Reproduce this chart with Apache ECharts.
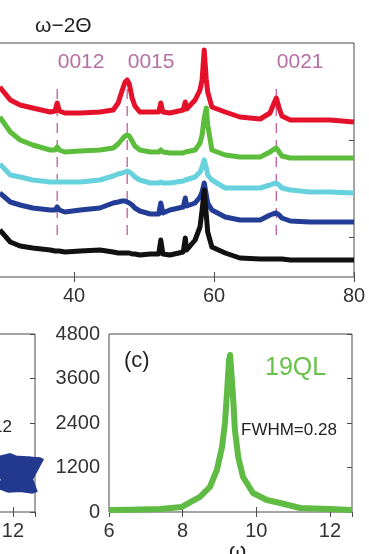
<!DOCTYPE html>
<html><head><meta charset="utf-8">
<script src="https://cdn.jsdelivr.net/npm/echarts@6/dist/echarts.min.js"></script>
<style>html,body{margin:0;padding:0;background:#fff}#c{width:369px;height:554px}</style>
</head><body><div id="c"></div><script>
// ---- top panel: omega-2theta scans (intensity in offset a.u.) ----
const twoTheta = [29.4,30.9,32.3,34.1,36.6,37.3,37.6,37.9,38.7,40.9,43.7,45.6,46.3,46.9,47.3,47.6,47.9,48.3,48.7,49.4,50.9,52.1,52.4,52.7,53.7,55.6,55.9,56.1,57.3,58.0,58.3,58.6,58.9,59.1,59.7,61.6,63.7,66.6,68.0,68.4,68.9,69.3,69.7,70.9,73.7,76.6,80.0];
const redScan   = [190,177,172,169,165,166,174,166,164,164,165,167,174,187,195,197,193,179,171,165,165,165,174,165,164,167,175,168,177,187,197,227,197,185,170,165,160,158,164,171,179,169,161,157,157,157,155];
const greenScan = [160,145,137,132,127,127,130,127,125,126,127,129,133,138,141,142,141,136,131,127,125,125,127,125,124,124,125,124,127,134,142,159,169,152,127,122,120,120,125,127,129,125,121,119,119,119,119];
const cyanScan  = [113,102,100,97,95,95,95,95,95,95,97,101,103,104,105,106,105,103,100,97,94,94,95,94,94,96,97,97,100,105,110,117,109,102,97,89,89,89,92,93,94,92,89,87,85,85,84];
const blueScan  = [84,75,72,69,67,67,70,67,65,67,69,74,75,76,76,75,74,72,69,66,63,63,74,64,67,70,79,71,74,80,85,94,82,74,67,60,57,57,62,63,64,62,59,56,55,55,55];
const blackScan = [47,35,31,29,27,26,26,26,25,26,27,25,24,24,24,24,24,23,23,22,23,23,37,23,22,25,39,27,37,50,67,87,62,45,30,24,19,18,18,18,18,18,18,17,17,17,17];
const peakNames = ['0012','0015','0021'];
const peakPos = [37.6, 47.6, 68.9];
const dashRange = [42, 190];
const peakLabelLevel = 215;
const topYTicks = [40, 137];

// ---- panel (b), partly visible ----
const omegaB = [11.6,11.75,11.9,12.05,12.2,12.35,12.5,12.6];
const rockB  = [944,1106,1052,998,1079,971,1025,971];

// ---- panel (c): 19QL rocking curve ----
const omegaC = [6.0,6.57,7.39,7.98,8.47,8.74,8.93,9.07,9.15,9.21,9.26,9.29,9.37,9.42,9.51,9.64,9.91,10.29,10.65,11.19,12.0,12.6];
const rockC  = [54,60,80,135,405,674,1133,1753,2400,3290,4100,4234,3100,2210,1480,944,512,324,243,108,80,54];

const FONT = "'Liberation Sans', Arial, sans-serif";
const zip = (a, b) => a.map((v, i) => [v, b[i]]);
const plain = v => String(v);

const chart = echarts.init(document.getElementById('c'), null, {renderer: 'canvas'});
const frame = {show: true, borderColor: '#4a4a4a', borderWidth: 1, backgroundColor: 'transparent', outerBoundsMode: 'none', containLabel: false};
const tickIn = {show: true, inside: true, length: 5, lineStyle: {color: '#4a4a4a'}};
const lbl = (show, extra) => Object.assign({show, fontSize: 20, color: '#333', fontFamily: FONT, margin: 9, formatter: plain}, extra || {});
function xAx(grid, pos, min, max, interval, labels, extra) {
  return Object.assign({
    type: 'value', gridIndex: grid, position: pos, min, max, interval,
    axisLine: {show: false}, axisTick: tickIn, splitLine: {show: false},
    axisLabel: lbl(labels, {showMaxLabel: max === 80})
  }, extra || {});
}
const series = [];
const scanColors = ['#e5112b', '#5cbd3c', '#67d2dd', '#233c96', '#111111'];
peakPos.forEach(p => series.push({
  type: 'line', xAxisIndex: 0, yAxisIndex: 0, data: [[p, dashRange[0]], [p, dashRange[1]]],
  symbol: 'none', silent: true, z: 1,
  lineStyle: {color: '#c766a4', width: 1.4, type: [10, 7]}
}));
[redScan, greenScan, cyanScan, blueScan, blackScan].forEach((s, i) => series.push({
  type: 'line', xAxisIndex: 0, yAxisIndex: 0, data: zip(twoTheta, s), symbol: 'none', z: 2,
  lineStyle: {color: scanColors[i], width: 5, join: 'round'}
}));
series.push({
  type: 'scatter', xAxisIndex: 0, yAxisIndex: 0, symbolSize: 1, itemStyle: {color: 'rgba(0,0,0,0)'}, z: 3,
  data: peakPos.map((p, i) => ({value: [p, peakLabelLevel], name: peakNames[i]})),
  label: {show: true, position: 'right', distance: 0, formatter: '{b}', fontSize: 21, color: '#a54b8e', fontFamily: FONT}
});
series.push({
  type: 'line', xAxisIndex: 2, yAxisIndex: 2, data: zip(omegaB, rockB), symbol: 'none',
  lineStyle: {color: '#22398f', width: 38}
});
series.push({
  type: 'line', xAxisIndex: 4, yAxisIndex: 4, data: zip(omegaC, rockC), symbol: 'none',
  lineStyle: {color: '#5fbb44', width: 6, join: 'round'}
});

const hiddenY = (grid, min, max, interval, pos, ticks) => ({
  type: 'value', gridIndex: grid, min, max, interval, position: pos, axisLine: {show: false},
  axisTick: ticks || {show: false}, axisLabel: {show: false}, splitLine: {show: false}
});

chart.setOption({
  animation: false,
  backgroundColor: '#fff',
  textStyle: {fontFamily: FONT},
  grid: [
    Object.assign({left: -66, top: 43, width: 420, height: 234}, frame),
    Object.assign({left: -208, top: 334, width: 243, height: 178}, frame),
    Object.assign({left: 109, top: 334, width: 243, height: 178}, frame)
  ],
  xAxis: [
    xAx(0, 'bottom', 20, 80, 20, true),
    xAx(0, 'top', 20, 80, 20, false),
    xAx(1, 'bottom', 6, 12.6, 2, true),
    xAx(1, 'top', 6, 12.6, 2, false),
    xAx(2, 'bottom', 6, 12.6, 2, true),
    xAx(2, 'top', 6, 12.6, 2, false)
  ],
  yAxis: [
    hiddenY(0, 0, 234, undefined, 'left'),
    hiddenY(0, 0, 234, undefined, 'right', Object.assign({customValues: topYTicks}, tickIn)),
    hiddenY(1, 0, 4800, 1200, 'right', tickIn),
    hiddenY(1, 0, 4800, 1200, 'left'),
    {type: 'value', gridIndex: 2, min: 0, max: 4800, interval: 1200, position: 'left', axisLine: {show: false}, axisTick: {show: false},
      axisLabel: lbl(true), splitLine: {show: false}},
    hiddenY(2, 0, 4800, 1200, 'right', tickIn)
  ],
  series,
  graphic: [
    {type: 'text', left: 35, top: 16, style: {text: 'ω−2Θ', fontSize: 21, fill: '#222', fontFamily: FONT}},
    {type: 'text', left: 124, top: 350, style: {text: '(c)', fontSize: 22, fill: '#222', fontFamily: FONT}},
    {type: 'text', left: 265, top: 356, style: {text: '19QL', fontSize: 25, fill: '#66c04a', fontFamily: FONT}},
    {type: 'text', left: 241, top: 422, style: {text: 'FWHM=0.28', fontSize: 17, fill: '#222', fontFamily: FONT}},
    {type: 'text', right: 357, top: 419, style: {text: 'FWHM=0.12', fontSize: 17, fill: '#222', fontFamily: FONT}},
    {type: 'text', left: 229, top: 541, style: {text: 'ω', fontSize: 22, fill: '#222', fontFamily: FONT}}
  ]
});
</script></body></html>
